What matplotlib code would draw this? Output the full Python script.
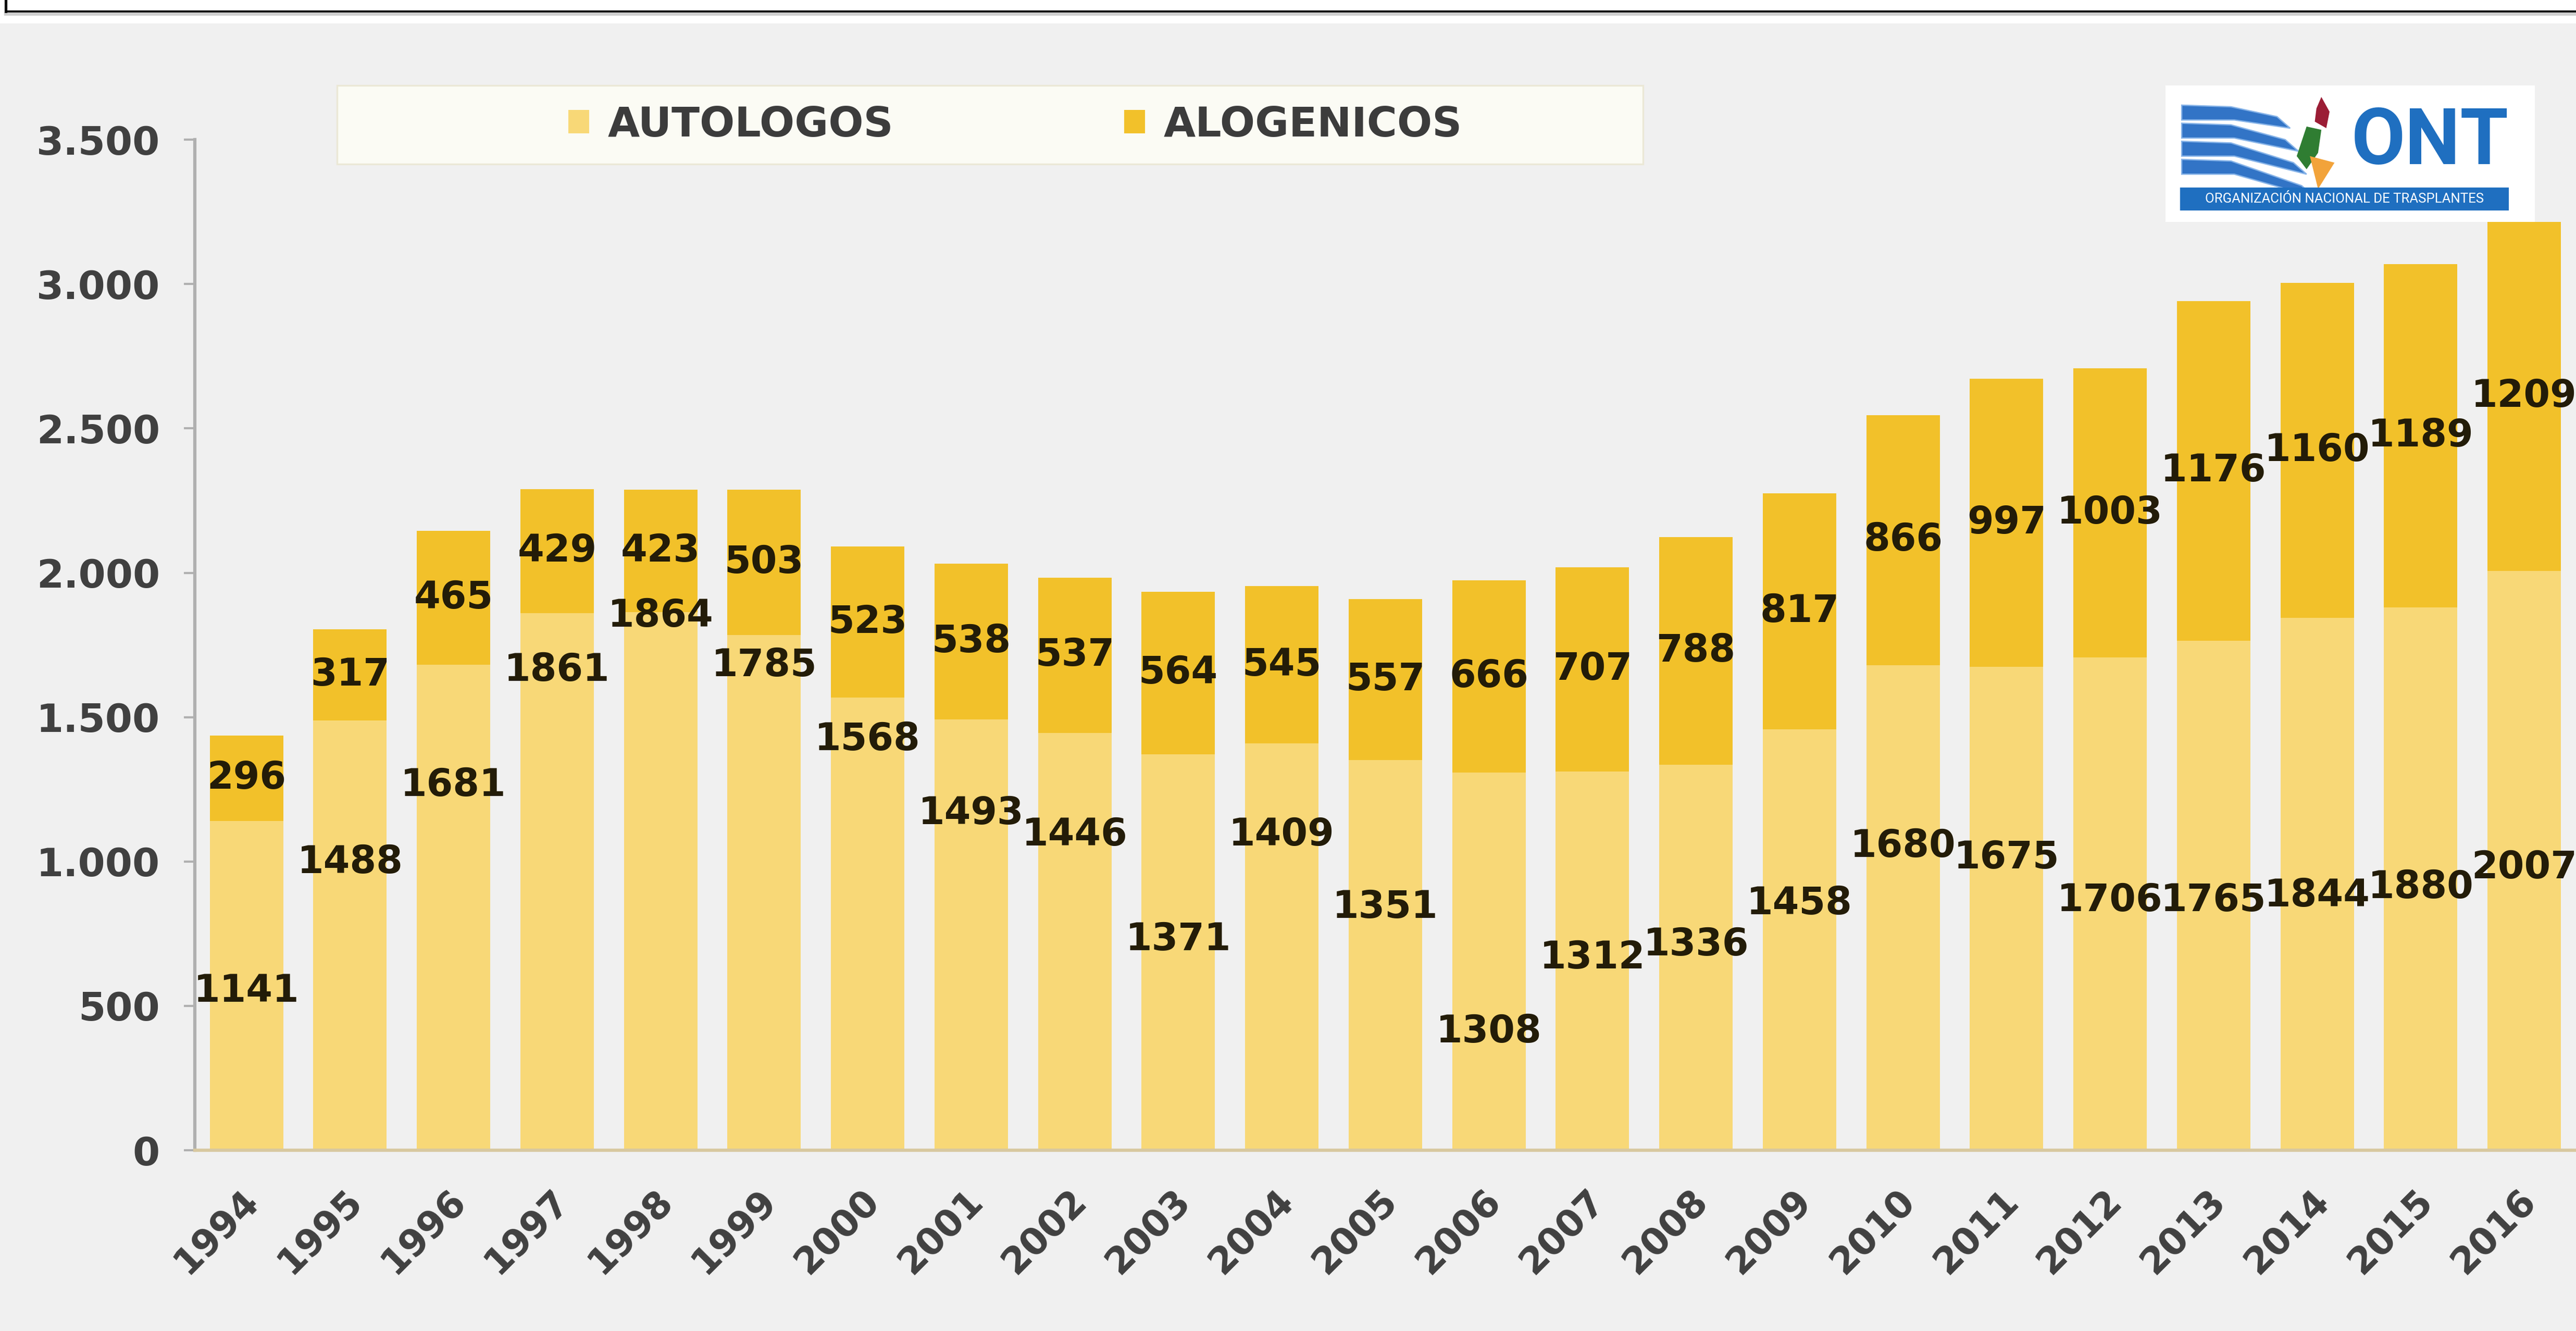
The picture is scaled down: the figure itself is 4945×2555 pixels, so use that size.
import matplotlib.pyplot as plt
from matplotlib import font_manager
from matplotlib.patches import Rectangle, Polygon
from matplotlib.ticker import FuncFormatter
from matplotlib.transforms import ScaledTranslation

# datos (trasplantes de progenitores hematopoyeticos)
years = ['1994', '1995', '1996', '1997', '1998', '1999', '2000', '2001', '2002', '2003', '2004', '2005',
         '2006', '2007', '2008', '2009', '2010', '2011', '2012', '2013', '2014', '2015', '2016']
autologos = [1141, 1488, 1681, 1861, 1864, 1785, 1568, 1493, 1446, 1371, 1409, 1351,
             1308, 1312, 1336, 1458, 1680, 1675, 1706, 1765, 1844, 1880, 2007]
alogenicos = [296, 317, 465, 429, 423, 503, 523, 538, 537, 564, 545, 557,
              666, 707, 788, 817, 866, 997, 1003, 1176, 1160, 1189, 1209]
series_names = ['AUTOLOGOS', 'ALOGENICOS']
y_ticks = [0, 500, 1000, 1500, 2000, 2500, 3000, 3500]

# altura (en unidades del eje) a la que estan puestas las etiquetas de autologos
auto_label_y = [552, 996, 1264, 1662, 1850, 1679, 1423, 1167, 1093, 729, 1093, 842,
                410, 666, 711, 854, 1053, 1013, 865, 865, 882, 911, 979]

c_light = '#f8d877'
c_dark = '#f2c12a'
c_text = '#231c08'
W, H = 1568, 810  # coordenadas de referencia

fig = plt.figure(figsize=(4945 / 300, 2555 / 300), dpi=300, facecolor='#f0f0f0')

# franja superior blanca con el marco negro
fig.patches.append(Rectangle((0, 1 - 45 / 2555), 1, 45 / 2555, transform=fig.transFigure,
                             facecolor='white', edgecolor='none', zorder=-2))
fig.add_artist(plt.Line2D([11 / 4945, 1], [1 - 22 / 2555] * 2, color='black', lw=1.2))
fig.add_artist(plt.Line2D([11 / 4945, 1], [1 - 27 / 2555] * 2, color='#cfcfcf', lw=1.5))
fig.add_artist(plt.Line2D([11 / 4945] * 2, [1 - 22 / 2555, 1], color='black', lw=1.2))

# caja de la leyenda (por debajo de los ejes)
fig.patches.append(Rectangle((205 / W, 1 - 100 / H), 795 / W, 48 / H, transform=fig.transFigure,
                             facecolor='#fbfbf4', edgecolor='#ebe8d6', lw=0.8, zorder=-1))

ax = fig.add_axes([118.5 / W, 1 - 700 / H, 1 - 118.5 / W, (700 - 85) / H])
ax.set_facecolor('none')
x = range(len(years))
b1 = ax.bar(x, autologos, width=0.71, color=c_light, label=series_names[0])
b2 = ax.bar(x, alogenicos, width=0.71, bottom=autologos, color=c_dark, label=series_names[1])

font_lbl = dict(fontsize=17.5, fontweight='bold', color=c_text)
for i, (v, yp) in enumerate(zip(autologos, auto_label_y)):
    ax.text(i, yp, str(v), ha='center', va='center', **font_lbl)
ax.bar_label(b2, labels=[str(v) for v in alogenicos], label_type='center', **font_lbl)

ax.set_xlim(-0.5, len(years) - 0.5)
ax.set_ylim(0, 3500)
ax.set_yticks(y_ticks)
ax.yaxis.set_major_formatter(FuncFormatter(lambda v, p: f'{int(v):,}'.replace(',', '.')))
ax.set_xticks(list(x))
ax.set_xticklabels(years, rotation=45, ha='right', va='top', rotation_mode='anchor')
ax.tick_params(axis='y', length=5, width=1, color='#b0b0b0', pad=11, labelsize=18, labelcolor='#404040')
ax.tick_params(axis='x', length=0, pad=15, labelsize=17, labelcolor='#404040')
shift = ScaledTranslation(-3 / 72, 0, fig.dpi_scale_trans)
for lab in ax.get_xticklabels():
    lab.set_fontweight('bold')
    lab.set_transform(lab.get_transform() + shift)
for lab in ax.get_yticklabels():
    lab.set_fontweight('bold')
for s in ['top', 'right']:
    ax.spines[s].set_visible(False)
ax.spines['left'].set_color('#b0b0b0')
ax.spines['left'].set_linewidth(1.5)
ax.spines['bottom'].set_color('#d8c8a0')
ax.spines['bottom'].set_linewidth(1.5)

leg = ax.legend(ncol=2, loc='center', bbox_to_anchor=(618 / W, 1 - 76 / H), bbox_transform=fig.transFigure,
                frameon=False, handlelength=0.5, handleheight=0.5, handletextpad=0.45, columnspacing=5.6,
                prop={'size': 19, 'weight': 'bold'})
for t in leg.get_texts():
    t.set_color('#3c3c3c')

# logo ONT
names = {f.name for f in font_manager.fontManager.ttflist}
logo_font = 'Roboto' if 'Roboto' in names else 'DejaVu Sans'
lx = fig.add_axes([1318 / W, 1 - 135 / H, 225 / W, 83 / H])
lx.set_xlim(0, 225)
lx.set_ylim(0, 83)
lx.axis('off')
lx.add_patch(Rectangle((0, 0), 225, 83, facecolor='white', edgecolor='none'))
for i in range(4):
    yl = 71 - 11 * i
    xr = 68 + 5 * i
    yr = yl - 7 - 3 * i
    lx.add_patch(Polygon([(10, yl), (40, yl - 1), (xr, yr), (xr + 8, yr - 7), (42, yl - 9), (10, yl - 9)],
                         closed=True, facecolor='#3274c6', edgecolor='#86b3e8', lw=0.6))
lx.add_patch(Polygon([(95, 76), (100, 67), (98, 57), (91, 61), (92, 69)], facecolor='#9b1d35'))
lx.add_patch(Polygon([(80, 40), (86, 58), (95, 56), (93, 42), (86, 32)], facecolor='#2f7d32'))
lx.add_patch(Polygon([(88, 40), (103, 36), (93, 20)], facecolor='#f2a33a'))
lx.text(161, 48, 'ONT', ha='center', va='center', color='#1f6fc0', fontweight='bold',
        fontsize=36, family=logo_font)
lx.add_patch(Rectangle((9, 7), 200, 14, facecolor='#1f6fc0', edgecolor='none'))
lx.text(109, 14, 'ORGANIZACIÓN NACIONAL DE TRASPLANTES', ha='center', va='center', color='white',
        fontsize=6.2, family=logo_font)

fig.savefig('out.png', dpi=300, facecolor=fig.get_facecolor())
